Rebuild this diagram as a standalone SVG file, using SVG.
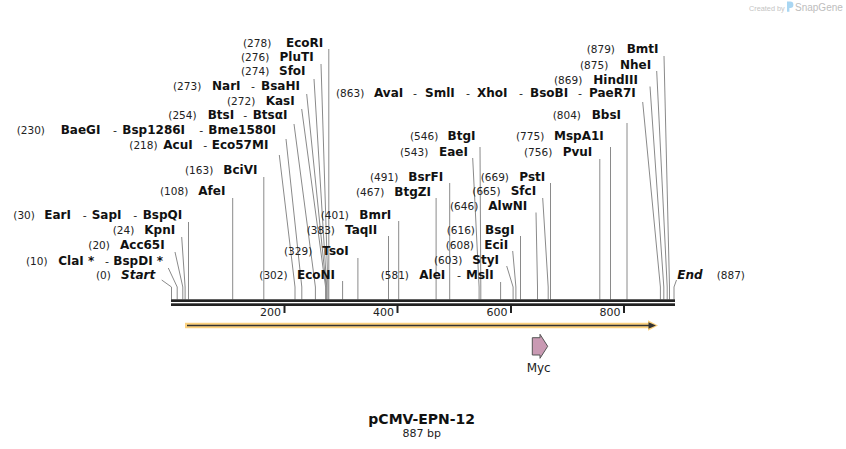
<svg xmlns="http://www.w3.org/2000/svg" width="846" height="449" viewBox="0 0 846 449">
<style>
text{font-family:"DejaVu Sans",Verdana,sans-serif}
.n{font-size:10.5px;fill:#222}
.b{font-size:12px;font-weight:bold;fill:#111}
.d{font-size:11px;fill:#222}
.i{font-style:italic}
.c{stroke:#8a8a8a;stroke-width:1;fill:none}
.bb{fill:#222}
.t{stroke:#222;stroke-width:2}
.tl{font-size:11px;fill:#222;text-anchor:end}
</style>
<rect width="846" height="449" fill="#fff"/>
<g id="credit">
<text x="749" y="10.5" style="font-family:'Liberation Sans',Arial,sans-serif;font-size:7.3px;fill:#c4c4c4">Created by</text>
<path d="M787,1.5 h3.2 a3.2,3.2 0 0 1 0,6.4 h-0.8 v3.8 h-2.4 z" fill="#a9d6f2"/>
<text x="795" y="10.5" style="font-family:'Liberation Sans',Arial,sans-serif;font-size:10px;fill:#bdbdbd">SnapGene</text>
</g>
<g id="connectors">
<path class="c" d="M328.8,49 V299.5"/>
<path class="c" d="M321,64 L327.9,287 V299.5"/>
<path class="c" d="M314,79 L326.7,287 V299.5"/>
<path class="c" d="M306.7,94 L326.2,287 V299.5"/>
<path class="c" d="M301.7,109 L325.6,287 V299.5"/>
<path class="c" d="M294,124 L315.4,287 V299.5"/>
<path class="c" d="M286,139 L301.8,287 V299.5"/>
<path class="c" d="M279.3,155 L295,287 V299.5"/>
<path class="c" d="M263.8,177 V299.5"/>
<path class="c" d="M232.7,198 V299.5"/>
<path class="c" d="M188.5,222 V299.5"/>
<path class="c" d="M181.7,237 L185.1,287 V299.5"/>
<path class="c" d="M175,252 L182.8,287 V299.5"/>
<path class="c" d="M168.3,268 L177.2,287 V299.5"/>
<path class="c" d="M161.7,280 L171.5,287 V299.5"/>
<path class="c" d="M342.6,281 V299.5"/>
<path class="c" d="M357.9,258 V299.5"/>
<path class="c" d="M388.5,236 V299.5"/>
<path class="c" d="M398.7,221 V299.5"/>
<path class="c" d="M436.1,198 V299.5"/>
<path class="c" d="M449.7,183 V299.5"/>
<path class="c" d="M472.7,158 L479.1,287 V299.5"/>
<path class="c" d="M480,147 L480.8,287 V299.5"/>
<path class="c" d="M500.6,282 V299.5"/>
<path class="c" d="M506.7,266 L513.1,287 V299.5"/>
<path class="c" d="M512.7,251 L515.9,287 V299.5"/>
<path class="c" d="M520.5,236 V299.5"/>
<path class="c" d="M536,212.5 L537.5,287 V299.5"/>
<path class="c" d="M542.7,198 L548.2,287 V299.5"/>
<path class="c" d="M550.5,183 V299.5"/>
<path class="c" d="M599.8,159 V299.5"/>
<path class="c" d="M610.5,147 V299.5"/>
<path class="c" d="M627,123 V299.5"/>
<path class="c" d="M642.7,102 L660.4,287 V299.5"/>
<path class="c" d="M650,86.5 L663.8,287 V299.5"/>
<path class="c" d="M656.7,71 L667.2,287 V299.5"/>
<path class="c" d="M664,56 L669.5,287 V299.5"/>
<path class="c" d="M676.5,280 L674,287 V299.5"/>
</g>
<g id="backbone">
<rect class="bb" x="171" y="299.3" width="504" height="2.7"/>
<rect class="bb" x="171" y="303.3" width="504" height="2.7"/>
<line class="t" x1="284.5" y1="305" x2="284.5" y2="313"/>
<line class="t" x1="397.5" y1="305" x2="397.5" y2="313"/>
<line class="t" x1="511" y1="305" x2="511" y2="313"/>
<line class="t" x1="624" y1="305" x2="624" y2="313"/>
<text class="tl" x="281" y="316">200</text>
<text class="tl" x="394" y="316">400</text>
<text class="tl" x="507.5" y="316">600</text>
<text class="tl" x="620.5" y="316">800</text>
</g>
<g id="orf-arrow">
<path d="M185,322.7 H648 V320.3 L658,325.5 L648,330.7 V328.3 H185 Z" fill="#fdd27f"/>
<line x1="187" y1="325.5" x2="650" y2="325.5" stroke="#333" stroke-width="1.5"/>
<path d="M648.5,322.3 L656,325.5 L648.5,328.7 Z" fill="#333"/>
</g>
<g id="feature-Myc">
<path d="M532.3,337.7 H540 V334.3 L547.7,346.3 L540,358.3 V355 H532.3 Z" fill="#c99ab3" stroke="#555" stroke-width="1"/>
<text x="538.7" y="372" text-anchor="middle" style="font-size:12px;fill:#222">Myc</text>
</g>
<g id="site-EcoRI"><text class="n" x="243" y="47">(278)</text><text class="b" x="286" y="47">EcoRI</text></g>
<g id="site-PluTI"><text class="n" x="241" y="61">(276)</text><text class="b" x="279.5" y="61">PluTI</text></g>
<g id="site-SfoI"><text class="n" x="241" y="75">(274)</text><text class="b" x="279" y="75">SfoI</text></g>
<g id="site-NarI"><text class="n" x="173" y="90">(273)</text><text class="b" x="212" y="90">NarI</text><text class="d" x="251" y="90">-</text><text class="b" x="261" y="90">BsaHI</text></g>
<g id="site-KasI"><text class="n" x="227" y="104.5">(272)</text><text class="b" x="265.7" y="104.5">KasI</text></g>
<g id="site-BtsI"><text class="n" x="168.3" y="119">(254)</text><text class="b" x="207.7" y="119">BtsI</text><text class="d" x="243.3" y="119">-</text><text class="b" x="252.7" y="119">BtsαI</text></g>
<g id="site-BaeGI"><text class="n" x="16.7" y="134">(230)</text><text class="b" x="60.7" y="134">BaeGI</text><text class="d" x="113" y="134">-</text><text class="b" x="122.3" y="134">Bsp1286I</text><text class="d" x="199.3" y="134">-</text><text class="b" x="208.3" y="134">Bme1580I</text></g>
<g id="site-AcuI"><text class="n" x="129.3" y="149">(218)</text><text class="b" x="163.3" y="149">AcuI</text><text class="d" x="203.3" y="149">-</text><text class="b" x="211.7" y="149">Eco57MI</text></g>
<g id="site-BciVI"><text class="n" x="185" y="173.5">(163)</text><text class="b" x="223.3" y="173.5">BciVI</text></g>
<g id="site-AfeI"><text class="n" x="160" y="195">(108)</text><text class="b" x="198.3" y="195">AfeI</text></g>
<g id="site-EarI"><text class="n" x="13.3" y="218.5">(30)</text><text class="b" x="44.3" y="218.5">EarI</text><text class="d" x="82.7" y="218.5">-</text><text class="b" x="91.7" y="218.5">SapI</text><text class="d" x="133.3" y="218.5">-</text><text class="b" x="142.7" y="218.5">BspQI</text></g>
<g id="site-KpnI"><text class="n" x="112.7" y="234">(24)</text><text class="b" x="144.3" y="234">KpnI</text></g>
<g id="site-Acc65I"><text class="n" x="88.3" y="249">(20)</text><text class="b" x="120" y="249">Acc65I</text></g>
<g id="site-ClaI"><text class="n" x="26" y="264.5">(10)</text><text class="b" x="58.3" y="264.5">ClaI *</text><text class="d" x="105" y="264.5">-</text><text class="b" x="113.3" y="264.5">BspDI *</text></g>
<g id="site-Start"><text class="n" x="96" y="279">(0)</text><text class="b i" x="121" y="279">Start</text></g>
<g id="site-EcoNI"><text class="n" x="259.3" y="279">(302)</text><text class="b" x="297" y="279">EcoNI</text></g>
<g id="site-TsoI"><text class="n" x="284" y="255">(329)</text><text class="b" x="322.3" y="255">TsoI</text></g>
<g id="site-TaqII"><text class="n" x="306.7" y="233.5">(383)</text><text class="b" x="345" y="233.5">TaqII</text></g>
<g id="site-BmrI"><text class="n" x="320.7" y="218.5">(401)</text><text class="b" x="359.3" y="218.5">BmrI</text></g>
<g id="site-BtgZI"><text class="n" x="356" y="195.5">(467)</text><text class="b" x="394.3" y="195.5">BtgZI</text></g>
<g id="site-BsrFI"><text class="n" x="370" y="180.5">(491)</text><text class="b" x="408.3" y="180.5">BsrFI</text></g>
<g id="site-EaeI"><text class="n" x="400" y="155.5">(543)</text><text class="b" x="439" y="155.5">EaeI</text></g>
<g id="site-BtgI"><text class="n" x="410" y="140">(546)</text><text class="b" x="447.5" y="140">BtgI</text></g>
<g id="site-AleI"><text class="n" x="380.7" y="279">(581)</text><text class="b" x="419.3" y="279">AleI</text><text class="d" x="457" y="279">-</text><text class="b" x="466" y="279">MslI</text></g>
<g id="site-StyI"><text class="n" x="434" y="263.5">(603)</text><text class="b" x="472.3" y="263.5">StyI</text></g>
<g id="site-EciI"><text class="n" x="445.7" y="248.5">(608)</text><text class="b" x="484.3" y="248.5">EciI</text></g>
<g id="site-BsgI"><text class="n" x="446.7" y="233.5">(616)</text><text class="b" x="485" y="233.5">BsgI</text></g>
<g id="site-AlwNI"><text class="n" x="450" y="210">(646)</text><text class="b" x="488.3" y="210">AlwNI</text></g>
<g id="site-SfcI"><text class="n" x="472.3" y="195">(665)</text><text class="b" x="510.7" y="195">SfcI</text></g>
<g id="site-PstI"><text class="n" x="480.7" y="180.5">(669)</text><text class="b" x="519.3" y="180.5">PstI</text></g>
<g id="site-PvuI"><text class="n" x="524" y="155.5">(756)</text><text class="b" x="562.7" y="155.5">PvuI</text></g>
<g id="site-MspA1I"><text class="n" x="516" y="140">(775)</text><text class="b" x="554" y="140">MspA1I</text></g>
<g id="site-BbsI"><text class="n" x="552.7" y="118.5">(804)</text><text class="b" x="591.7" y="118.5">BbsI</text></g>
<g id="site-AvaI"><text class="n" x="336" y="97">(863)</text><text class="b" x="374" y="97">AvaI</text><text class="d" x="413" y="97">-</text><text class="b" x="425" y="97">SmlI</text><text class="d" x="466" y="97">-</text><text class="b" x="477" y="97">XhoI</text><text class="d" x="519" y="97">-</text><text class="b" x="530" y="97">BsoBI</text><text class="d" x="578" y="97">-</text><text class="b" x="589" y="97">PaeR7I</text></g>
<g id="site-HindIII"><text class="n" x="554" y="83.5">(869)</text><text class="b" x="593.3" y="83.5">HindIII</text></g>
<g id="site-NheI"><text class="n" x="580" y="68.5">(875)</text><text class="b" x="620" y="68.5">NheI</text></g>
<g id="site-BmtI"><text class="n" x="586.7" y="53">(879)</text><text class="b" x="626.7" y="53">BmtI</text></g>
<g id="site-End"><text class="b i" x="677.3" y="278.5">End</text><text class="n" x="716.7" y="278.5">(887)</text></g>
<g id="title">
<text x="421.7" y="423.5" text-anchor="middle" style="font-size:14px;font-weight:bold;fill:#111">pCMV-EPN-12</text>
<text x="421.7" y="436.5" text-anchor="middle" style="font-size:11px;fill:#222">887 bp</text>
</g>
</svg>
